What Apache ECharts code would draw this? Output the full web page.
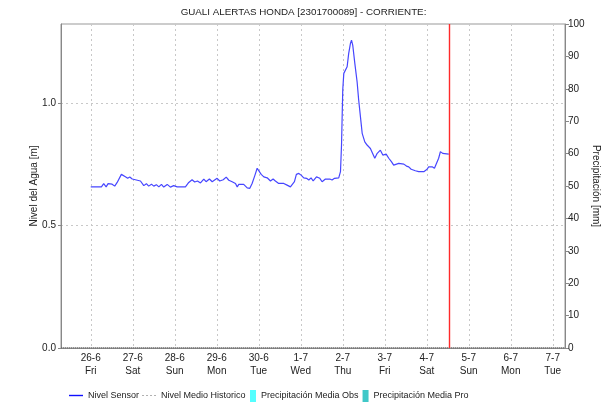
<!DOCTYPE html>
<html>
<head>
<meta charset="utf-8">
<script src="https://cdn.jsdelivr.net/npm/echarts@6/dist/echarts.min.js"></script>
<style>
html,body{margin:0;padding:0;background:#fff;}
#chart{width:607px;height:403px;}
</style>
</head>
<body>
<div id="chart"></div>
<script>
// x values are hours since 2020-06-26 00:00; sensor level in metres
const sensorHours = [0,6.1,7.4,8.8,9.9,12.2,13.7,15.1,16,17.5,18.5,19.8,21.1,22.3,23.7,24.6,28.4,30.3,31.8,33.1,34.7,36,37.5,38.9,40.4,41.7,43.7,45.5,47.4,49.4,54.1,56,57.9,59.4,61,62.7,64.6,65.9,67.8,69.4,69.9,72.2,73.7,75.7,77.4,78.9,80.8,82.7,83.7,84.6,87.4,89.4,90.9,92.2,93.7,95.1,96,97.4,98.9,100.8,102.7,104.2,105.5,107.4,110.3,112.2,114.1,115.1,116.4,117.5,118.9,120.2,121.7,123.3,124.6,125.9,127.1,129,130.9,132.2,134.1,136.6,137.9,139.3,141.7,142.7,143.3,144,144.6,145.5,146.5,147.4,148.4,149,149.7,150.9,152.2,153.1,154.1,155.1,156.6,157.9,158.9,159.8,160.8,162.3,163.7,165.5,166.9,168.8,170.3,171.8,173.1,176,178.9,180.4,181.7,183.1,184.2,185.5,187.4,190.3,192.2,193.1,195.1,196.4,197.5,198.8,199.8,201.1,202.1,204.6];
const sensorLevel = [0.659,0.659,0.672,0.659,0.672,0.670,0.662,0.677,0.670,0.710,0.713,0.700,0.694,0.699,0.691,0.683,0.683,0.664,0.672,0.662,0.670,0.662,0.668,0.659,0.669,0.658,0.669,0.658,0.664,0.659,0.659,0.677,0.688,0.679,0.683,0.675,0.691,0.680,0.691,0.680,0.686,0.694,0.683,0.688,0.699,0.686,0.680,0.673,0.659,0.669,0.669,0.655,0.653,0.673,0.704,0.735,0.728,0.710,0.700,0.696,0.683,0.691,0.683,0.673,0.673,0.666,0.659,0.653,0.680,0.710,0.714,0.707,0.696,0.694,0.687,0.696,0.683,0.700,0.694,0.680,0.691,0.691,0.687,0.694,0.696,0.721,0.830,1.055,1.123,1.126,1.150,1.205,1.246,1.259,1.239,1.164,1.089,1.014,0.946,0.878,0.843,0.830,0.837,0.816,0.809,0.776,0.796,0.809,0.789,0.793,0.776,0.762,0.748,0.755,0.752,0.744,0.741,0.731,0.736,0.725,0.721,0.721,0.731,0.741,0.741,0.735,0.741,0.776,0.803,0.796,0.793,0.793];
const histHours = [-17, 271];
const histLevel = [0, 0];
const precipObs = [];
const precipPro = [];
const nowHours = [205, 205];
const nowLevel = [0, 1.325];
const dayTickHours = [0, 24, 48, 72, 96, 120, 144, 168, 192, 216, 240, 264];
const dayNames = ['Sun','Mon','Tue','Wed','Thu','Fri','Sat'];
const leftTicks = [0, 0.5, 1.0];
const axisStartHour = -17;
const axisEndHour = 271;
const levelMax = 1.325;

const base = new Date(2020, 5, 26, 0, 0, 0).getTime();
const H = 3600 * 1000;

const FONT = 'Liberation Sans, Arial, sans-serif';
const TXT = '#222';
const boxIcon = 'path://M0,0 L6,0 L6,12 L0,12 Z';
const lineIcon = 'path://M0,0 L14,0 L14,1.4 L0,1.4 Z';
const dotIcon = 'path://M0,0h2v1.2h-2z M4,0h2v1.2h-2z M8,0h2v1.2h-2z M12,0h2v1.2h-2z';
const gridDots = { color: '#c8c8c8', type: [2, 3], width: 1 };
const legendText = { fontFamily: FONT, fontSize: 9, color: TXT };

const chart = echarts.init(document.getElementById('chart'));
chart.setOption({
  animation: false,
  backgroundColor: '#fff',
  textStyle: { fontFamily: FONT },
  title: {
    text: 'GUALI ALERTAS HONDA [2301700089] - CORRIENTE:',
    left: 'center', top: 2,
    textStyle: { fontFamily: FONT, fontSize: 9.8, fontWeight: 'normal', color: TXT }
  },
  grid: { left: 61, right: 42, top: 24, bottom: 55, show: true, borderColor: '#999', borderWidth: 1, outerBoundsMode: 'none', containLabel: false },
  legend: [
    {
      top: 391, left: 69, padding: 0, itemGap: 3, itemWidth: 14, itemHeight: 12,
      textStyle: legendText,
      data: [
        { name: 'Nivel Sensor', icon: lineIcon, itemStyle: { color: '#1010ff' } },
        { name: 'Nivel Medio Historico', icon: dotIcon, itemStyle: { color: '#b0b0b0' } }
      ]
    },
    {
      top: 390, left: 250, padding: 0, itemGap: 4, itemWidth: 6, itemHeight: 12,
      textStyle: legendText,
      data: [
        { name: 'Precipitación Media Obs', icon: boxIcon, itemStyle: { color: '#55ffff' } },
        { name: 'Precipitación Media Pro', icon: boxIcon, itemStyle: { color: '#40c8c8' } }
      ]
    }
  ],
  xAxis: {
    type: 'value',
    min: axisStartHour, max: axisEndHour,
    axisLine: { onZero: false, lineStyle: { color: '#888' } },
    axisTick: { show: false, customValues: dayTickHours },
    splitLine: { show: true, lineStyle: gridDots },
    axisLabel: {
      customValues: dayTickHours,
      fontFamily: FONT, fontSize: 10, color: TXT, lineHeight: 13, margin: 4,
      formatter: v => { const d = new Date(base + v * H); return d.getDate() + '-' + (d.getMonth() + 1) + '\n' + dayNames[d.getDay()]; }
    }
  },
  yAxis: [
    {
      type: 'value', min: 0, max: levelMax,
      name: 'Nivel del Agua [m]', nameLocation: 'middle', nameGap: 22, nameRotate: 90, nameMoveOverlap: false,
      nameTextStyle: { fontFamily: FONT, fontSize: 10, color: TXT },
      axisLine: { show: true, onZero: false, lineStyle: { color: '#888' } },
      axisTick: { show: true, length: 3, customValues: leftTicks, lineStyle: { color: '#888' } },
      axisLabel: { customValues: leftTicks, fontFamily: FONT, fontSize: 10, color: TXT, margin: 5,
        formatter: v => v.toFixed(1) },
      splitLine: { show: true, lineStyle: gridDots }
    },
    {
      type: 'value', min: 0, max: 100, interval: 10, position: 'right',
      name: 'Precipitación [mm]', nameLocation: 'middle', nameGap: 26, nameRotate: -90, nameMoveOverlap: false,
      nameTextStyle: { fontFamily: FONT, fontSize: 10, color: TXT },
      axisLine: { show: true, onZero: false, lineStyle: { color: '#888' } },
      axisTick: { show: true, length: 4, lineStyle: { color: '#888' } },
      axisLabel: { fontFamily: FONT, fontSize: 10, color: TXT, margin: 3 },
      splitLine: { show: false }
    }
  ],
  series: [
    {
      name: 'Nivel Sensor', type: 'line', yAxisIndex: 0,
      symbol: 'none', showSymbol: false,
      lineStyle: { color: '#4646ff', width: 1.2 }, itemStyle: { color: '#1010ff' },
      data: sensorHours.map((h, i) => [h, sensorLevel[i]]),
      z: 5
    },
    {
      name: 'Nivel Medio Historico', type: 'line', yAxisIndex: 0,
      symbol: 'none', showSymbol: false,
      lineStyle: { color: '#555', width: 1, type: [1, 1] }, itemStyle: { color: '#b0b0b0' },
      data: histHours.map((h, i) => [h, histLevel[i]]),
      z: 6
    },
    {
      name: 'Ahora', type: 'line', yAxisIndex: 0,
      symbol: 'none', showSymbol: false,
      color: '#ff2a2a',
      lineStyle: { color: '#ff2a2a', width: 1.4, opacity: 1 }, itemStyle: { color: '#ff2a2a' },
      data: nowHours.map((h, i) => [h, nowLevel[i]]),
      z: 7
    },
    {
      name: 'Precipitación Media Obs', type: 'line', yAxisIndex: 1,
      symbol: 'none', itemStyle: { color: '#55ffff' },
      data: precipObs
    },
    {
      name: 'Precipitación Media Pro', type: 'line', yAxisIndex: 1,
      symbol: 'none', itemStyle: { color: '#40c8c8' },
      data: precipPro
    }
  ]
});
</script>
</body>
</html>
